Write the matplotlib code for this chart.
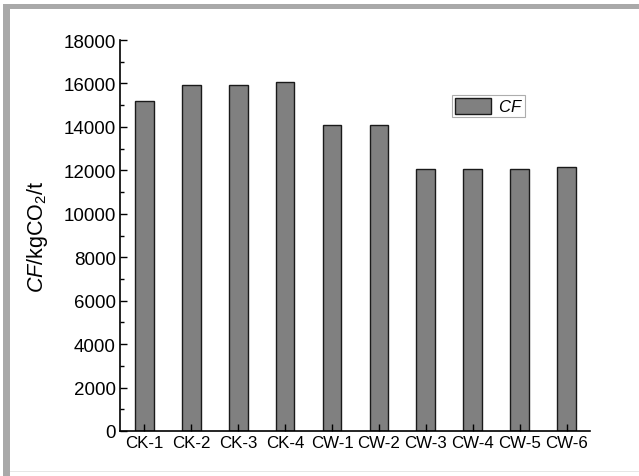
import matplotlib
matplotlib.use("Agg")
import matplotlib.pyplot as plt
from matplotlib.patches import Rectangle
from matplotlib.ticker import MultipleLocator

plt.rcParams['font.family'] = ['Liberation Sans', 'DejaVu Sans']
plt.rcParams['mathtext.fontset'] = 'custom'
plt.rcParams['mathtext.rm'] = 'Liberation Sans'
plt.rcParams['mathtext.it'] = 'Liberation Sans:italic'

categories = ['CK-1', 'CK-2', 'CK-3', 'CK-4', 'CW-1', 'CW-2', 'CW-3', 'CW-4', 'CW-5', 'CW-6']
cf_values = [15200, 15950, 15950, 16050, 14100, 14100, 12050, 12050, 12050, 12150]
y_ticks = [0, 2000, 4000, 6000, 8000, 10000, 12000, 14000, 16000, 18000]

fig = plt.figure(figsize=(6.39, 4.77), dpi=100)

# grey frame around the figure
fig.patches.append(Rectangle((3 / 639, 0), 7 / 639, 1 - 5 / 477, transform=fig.transFigure,
                             facecolor='#a9a9a9', edgecolor='none', zorder=0))
fig.patches.append(Rectangle((3 / 639, 1 - 10 / 477), 1, 5 / 477, transform=fig.transFigure,
                             facecolor='#a9a9a9', edgecolor='none', zorder=0))
fig.patches.append(Rectangle((10 / 639, 4 / 477), 1, 1.5 / 477, transform=fig.transFigure,
                             facecolor='#e6e6e6', edgecolor='none', zorder=0))

ax = fig.add_axes([120 / 639, 1 - 432 / 477, 470 / 639, 391 / 477])
x = range(len(categories))
ax.bar(x, cf_values, width=0.4, color='#808080', edgecolor='#1a1a1a', linewidth=1.0, label='CF')

ax.set_xlim(-0.52, 9.5)
ax.set_ylim(0, 18000)
ax.set_xticks(list(x))
ax.set_xticklabels(categories, fontsize=12.2)
ax.set_yticks(y_ticks)
ax.set_yticklabels([str(v) for v in y_ticks], fontsize=13.5)
ax.yaxis.set_minor_locator(MultipleLocator(1000))
ax.tick_params(axis='both', which='major', direction='in', length=5, width=1, pad=3)
ax.tick_params(axis='y', which='minor', direction='in', length=3, width=1)
ax.spines['top'].set_visible(False)
ax.spines['right'].set_visible(False)
ax.spines['left'].set_linewidth(1.2)
ax.spines['bottom'].set_linewidth(1.2)

ax.set_ylabel(r'$\mathit{CF}$/kgCO$_2$/t', fontsize=15.5, labelpad=10)

leg = ax.legend(handles=[ax.patches[0]], labels=[r'$\mathit{CF}$'], loc='upper left',
                bbox_to_anchor=((452 - 120) / 470, (432 - 96) / 391), fontsize=12,
                frameon=True, fancybox=False, borderpad=0.15, handlelength=2.2,
                handleheight=1.1, handletextpad=0.4, borderaxespad=0)
leg.get_frame().set_edgecolor('#999999')
leg.get_frame().set_linewidth(0.8)

fig.savefig('out.png', dpi=100)
